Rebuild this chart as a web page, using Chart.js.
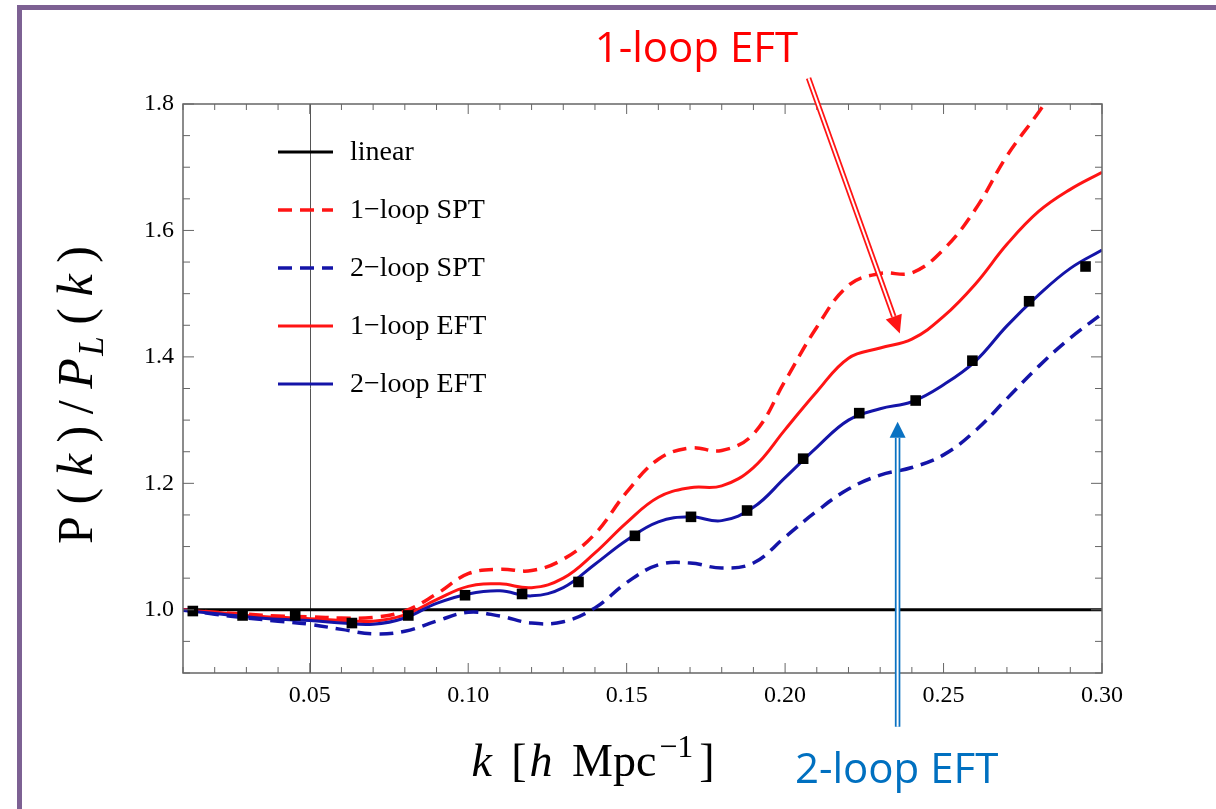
<!DOCTYPE html>
<html>
<head>
<meta charset="utf-8">
<script src="https://cdn.jsdelivr.net/npm/chart.js@4.4.0/dist/chart.umd.min.js"></script>
<style>
  html, body { margin: 0; padding: 0; background: #fff; }
  #wrap { position: relative; width: 1216px; height: 809px; overflow: hidden; }
  #frame { position: absolute; left: 17px; top: 5px; right: -10px; bottom: -10px;
           border-top: 5px solid #7d6193; border-left: 5px solid #7d6193; }
  canvas { position: absolute; left: 0; top: 0; }
</style>
</head>
<body>
<div id="wrap"><div id="frame"></div><canvas id="chart" width="1216" height="809"></canvas></div>
<script>
// k grid in h/Mpc
const kGrid = [0.01, 0.02, 0.03, 0.04, 0.05, 0.06, 0.07, 0.08, 0.09, 0.10,
               0.11, 0.12, 0.13, 0.14, 0.15, 0.16, 0.17, 0.18, 0.19, 0.20,
               0.21, 0.22, 0.23, 0.24, 0.25, 0.26, 0.27, 0.28, 0.29, 0.30];

// P(k)/P_L(k)
const spt1Loop = [1.000, 0.996, 0.993, 0.990, 0.989, 0.987, 0.988, 0.998, 1.025, 1.057,
                  1.064, 1.062, 1.080, 1.120, 1.186, 1.238, 1.256, 1.252, 1.278, 1.362,
                  1.447, 1.513, 1.532, 1.533, 1.570, 1.633, 1.718, 1.787, 1.860, 1.930];
const spt2Loop = [1.000, 0.993, 0.987, 0.982, 0.977, 0.969, 0.962, 0.966, 0.982, 0.996,
                  0.990, 0.979, 0.981, 1.003, 1.043, 1.071, 1.074, 1.066, 1.074, 1.115,
                  1.156, 1.191, 1.213, 1.225, 1.245, 1.283, 1.334, 1.385, 1.430, 1.468];
const eft1Loop = [1.000, 0.996, 0.991, 0.988, 0.986, 0.983, 0.982, 0.992, 1.016, 1.037,
                  1.041, 1.035, 1.050, 1.090, 1.138, 1.178, 1.193, 1.196, 1.225, 1.285,
                  1.345, 1.398, 1.414, 1.428, 1.464, 1.515, 1.578, 1.630, 1.665, 1.692];
const eft2Loop = [0.999, 0.994, 0.989, 0.985, 0.983, 0.979, 0.977, 0.987, 1.010, 1.025,
                  1.030, 1.022, 1.035, 1.072, 1.110, 1.139, 1.147, 1.141, 1.162, 1.209,
                  1.257, 1.300, 1.318, 1.329, 1.356, 1.393, 1.449, 1.498, 1.540, 1.569];

// linear reference
const linearK = [0.01, 0.30];
const linearRatio = [1.0, 1.0];

// simulation points (black squares)
const simK = [0.0131, 0.0288, 0.0454, 0.0633, 0.0811, 0.0990, 0.1170, 0.1348, 0.1526,
              0.1703, 0.1880, 0.2057, 0.2234, 0.2412, 0.2591, 0.2770, 0.2948];
const simRatio = [0.998, 0.991, 0.991, 0.979, 0.991, 1.023, 1.025, 1.044, 1.117,
                  1.147, 1.157, 1.239, 1.311, 1.331, 1.394, 1.488, 1.543];

// annotation anchors in data coordinates
const redArrow = { from: [0.2074, 1.841], to: [0.2362, 1.437] };
const blueArrow = { from: [0.2355, 0.815], to: [0.2355, 1.2975] };
const redNote = { text: '1-loop EFT', at: [0.1720, 1.866] };
const blueNote = { text: '2-loop EFT', at: [0.2352, 0.726] };

const RED = '#ff1414';
const BLUE = '#1414a8';
const SERIF = '"Liberation Serif", "DejaVu Serif", serif';

const pts = (xs, ys) => xs.map((x, i) => ({ x: x, y: ys[i] }));

function line(ctx, x0, y0, x1, y1) {
  ctx.beginPath(); ctx.moveTo(x0, y0); ctx.lineTo(x1, y1); ctx.stroke();
}

function hollowArrow(ctx, x0, y0, x1, y1, color, outer, inner, headLen, headW) {
  const ang = Math.atan2(y1 - y0, x1 - x0);
  const bx = x1 - headLen * Math.cos(ang), by = y1 - headLen * Math.sin(ang);
  ctx.lineCap = 'butt';
  ctx.strokeStyle = color; ctx.lineWidth = outer; line(ctx, x0, y0, bx, by);
  ctx.strokeStyle = '#fff'; ctx.lineWidth = inner; line(ctx, x0, y0, bx + Math.cos(ang), by + Math.sin(ang));
  const nx = -Math.sin(ang), ny = Math.cos(ang);
  ctx.fillStyle = color;
  ctx.beginPath();
  ctx.moveTo(x1, y1);
  ctx.lineTo(bx + nx * headW / 2, by + ny * headW / 2);
  ctx.lineTo(bx - nx * headW / 2, by - ny * headW / 2);
  ctx.closePath(); ctx.fill();
}

// draw a math-ish label made of pieces, stretched to a target width
function drawMath(ctx, segs, size, x, y, target) {
  const fontOf = s => (s.it ? 'italic ' : '') + Math.round(size * (s.sub || s.sup ? 0.7 : 1)) + 'px ' + SERIF;
  let natural = 0;
  segs.forEach(s => { ctx.font = fontOf(s); s.w = ctx.measureText(s.t).width; natural += s.w; });
  const weight = segs.reduce((acc, s) => acc + (s.gap || 1), 0) - (segs[segs.length - 1].gap || 1);
  const unit = (target - natural) / weight;
  let cx = x - target / 2;
  segs.forEach(s => {
    ctx.font = fontOf(s);
    const dy = s.sup ? -size * 0.42 : (s.sub ? size * 0.22 : 0);
    ctx.fillText(s.t, cx, y + dy);
    cx += s.w + unit * (s.gap || 1);
  });
}

const legendRows = ['linear', '1\u2212loop SPT', '2\u2212loop SPT', '1\u2212loop EFT', '2\u2212loop EFT'];

const decorations = {
  id: 'decorations',
  beforeDatasetsDraw(chart) {
    const { ctx, chartArea: a, scales: { x } } = chart;
    ctx.save();
    ctx.strokeStyle = '#555'; ctx.lineWidth = 1;
    const vx = Math.round(x.getPixelForValue(0.05)) + 0.5;
    line(ctx, vx, a.top, vx, a.bottom);
    ctx.restore();
  },
  afterDraw(chart) {
    const { ctx, chartArea: a, scales: { x, y } } = chart;
    ctx.save();

    // frame + inward ticks on all sides
    ctx.strokeStyle = '#666'; ctx.lineWidth = 1.5;
    ctx.strokeRect(a.left, a.top, a.right - a.left, a.bottom - a.top);
    ctx.lineWidth = 1;
    x.ticks.forEach(t => {
      const px = x.getPixelForValue(t.value);
      const len = t.label !== '' ? 10 : 6;
      line(ctx, px, a.bottom, px, a.bottom - len);
      line(ctx, px, a.top, px, a.top + len);
    });
    y.ticks.forEach(t => {
      const py = y.getPixelForValue(t.value);
      const len = t.label !== '' ? 11 : 7;
      line(ctx, a.left, py, a.left + len, py);
      line(ctx, a.right, py, a.right - len, py);
    });

    // legend inside plot
    const ds = chart.data.datasets;
    legendRows.forEach((name, i) => {
      const d = ds.find(s => s.label === name);
      const ry = 152 + i * 58;
      ctx.strokeStyle = d.borderColor; ctx.lineWidth = d.borderWidth;
      ctx.setLineDash(d.borderDash || []);
      line(ctx, 278, ry, 333, ry);
      ctx.setLineDash([]);
      ctx.fillStyle = '#000'; ctx.font = '28px ' + SERIF;
      ctx.textBaseline = 'middle'; ctx.textAlign = 'left';
      ctx.fillText(name, 350, ry + 1);
    });

    // axis titles
    ctx.fillStyle = '#000'; ctx.textBaseline = 'alphabetic'; ctx.textAlign = 'left';
    drawMath(ctx, [
      { t: 'k', it: true, gap: 2 }, { t: '[', gap: 0.3 }, { t: 'h', it: true, gap: 2 }, { t: 'Mpc', gap: 0.3 },
      { t: '\u22121', sup: true, gap: 0.6 }, { t: ']' }
    ], 46, 593, 776, 243);
    ctx.save();
    ctx.translate(92, 395);
    ctx.rotate(-Math.PI / 2);
    drawMath(ctx, [
      { t: 'P' }, { t: '(' }, { t: 'k', it: true }, { t: ')' }, { t: '/' },
      { t: 'P', it: true, gap: 0.2 }, { t: 'L', it: true, sub: true }, { t: '(' }, { t: 'k', it: true }, { t: ')' }
    ], 50, 0, 0, 298);
    ctx.restore();

    // annotations
    const px = p => [x.getPixelForValue(p[0]), y.getPixelForValue(p[1])];
    let f = px(redArrow.from), t = px(redArrow.to);
    hollowArrow(ctx, f[0], f[1], t[0], t[1], RED, 5.5, 2, 18, 17);
    f = px(blueArrow.from); t = px(blueArrow.to);
    hollowArrow(ctx, f[0], f[1], t[0], t[1], '#0a72c2', 5.5, 2, 16, 16);

    ctx.font = '42px "Open Sans", Lato, sans-serif';
    ctx.textAlign = 'center'; ctx.textBaseline = 'alphabetic';
    let p = px(redNote.at);
    ctx.fillStyle = '#ff0000'; ctx.fillText(redNote.text, p[0], p[1]);
    p = px(blueNote.at);
    ctx.fillStyle = '#0070c0'; ctx.fillText(blueNote.text, p[0], p[1]);

    ctx.restore();
  }
};

const curve = (label, ys, color, dash, order) => ({
  label: label,
  data: pts(kGrid, ys),
  borderColor: color,
  borderWidth: dash ? 3.5 : 3,
  borderDash: dash,
  pointRadius: 0,
  tension: 0.4,
  fill: false,
  order: order
});

new Chart(document.getElementById('chart'), {
  type: 'line',
  data: {
    datasets: [
      { label: 'simulation', data: pts(simK, simRatio), showLine: false,
        pointStyle: 'rect', pointRadius: 7.5, pointBackgroundColor: '#000',
        pointBorderColor: '#000', pointBorderWidth: 0, order: 0 },
      curve('2\u2212loop EFT', eft2Loop, BLUE, undefined, 1),
      curve('1\u2212loop EFT', eft1Loop, RED, undefined, 2),
      curve('2\u2212loop SPT', spt2Loop, BLUE, [14, 8], 3),
      curve('1\u2212loop SPT', spt1Loop, RED, [14, 8], 4),
      { label: 'linear', data: pts(linearK, linearRatio), borderColor: '#000',
        borderWidth: 3, pointRadius: 0, order: 5 }
    ]
  },
  options: {
    responsive: false,
    animation: false,
    events: [],
    layout: { padding: { left: 0, right: 114, top: 104, bottom: 0 } },
    plugins: { legend: { display: false }, tooltip: { enabled: false } },
    scales: {
      x: {
        type: 'linear', min: 0.01, max: 0.30,
        grid: { display: false, drawTicks: false },
        border: { display: false },
        afterFit: s => { s.height = 136; },
        ticks: {
          stepSize: 0.01, autoSkip: false, maxRotation: 0, padding: 8,
          color: '#000', font: { family: SERIF, size: 24 },
          callback: v => { const r = Math.round(v * 100); return r % 5 === 0 ? (r / 100).toFixed(2) : ''; }
        }
      },
      y: {
        type: 'linear', min: 0.9, max: 1.8,
        grid: { display: false, drawTicks: false },
        border: { display: false },
        afterFit: s => { s.width = 183; },
        ticks: {
          stepSize: 0.05, autoSkip: false, padding: 9,
          color: '#000', font: { family: SERIF, size: 24 },
          callback: v => { const r = Math.round(v * 100); return r % 20 === 0 ? (r / 100).toFixed(1) : ''; }
        }
      }
    }
  },
  plugins: [decorations]
});
</script>
</body>
</html>
